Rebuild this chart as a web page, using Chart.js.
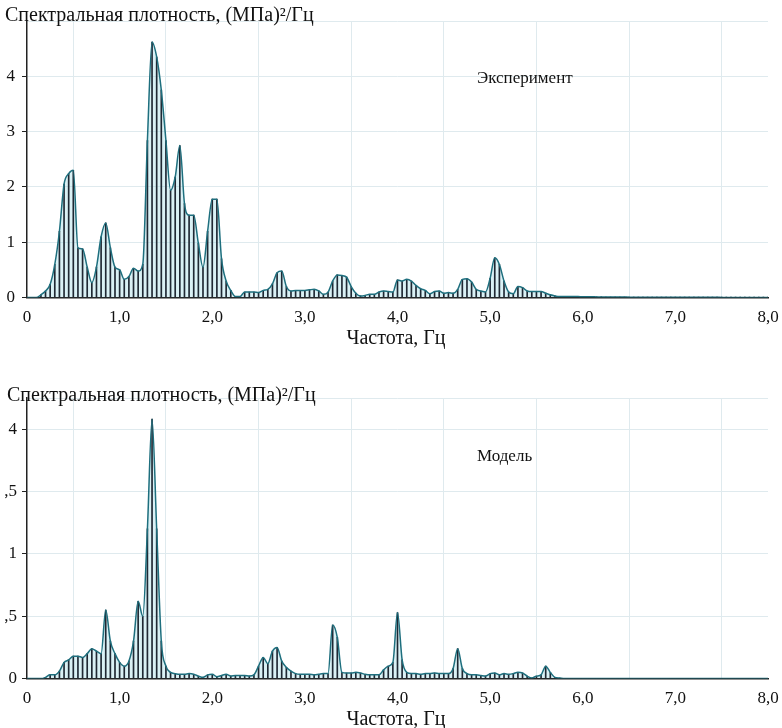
<!DOCTYPE html>
<html>
<head>
<meta charset="utf-8">
<script src="https://cdn.jsdelivr.net/npm/chart.js@4/dist/chart.umd.min.js"></script>
<style>
  html, body { margin: 0; padding: 0; background: #fff; }
  body { width: 782px; height: 728px; position: relative; overflow: hidden; font-family: "Liberation Serif", serif; color: #111; }
  .panel { position: absolute; left: 0; width: 782px; }
  .label { position: absolute; font-size: 20px; white-space: nowrap; line-height: 1; }
  .axis { position: absolute; left: 296px; width: 200px; text-align: center; font-size: 20px; line-height: 1; }
  .note { position: absolute; font-size: 17px; white-space: nowrap; line-height: 1; }
</style>
</head>
<body>
<div class="panel" style="top:0;height:338px"><canvas id="expChart" width="782" height="338"></canvas></div>
<div class="panel" style="top:370px;height:349px"><canvas id="modelChart" width="782" height="349"></canvas></div>

<div class="label" style="left:5px;top:4px">Спектральная плотность, (МПа)²/Гц</div>
<div class="note" style="left:477px;top:69px">Эксперимент</div>
<div class="axis" style="top:327px">Частота, Гц</div>

<div class="label" style="left:7px;top:384px">Спектральная плотность, (МПа)²/Гц</div>
<div class="note" style="left:477px;top:447px">Модель</div>
<div class="axis" style="top:708px">Частота, Гц</div>

<script>
// Frequency grid of the spectra, Hz (sampling step of the plotted spectra)
const freqs = Array.from({ length: 161 }, (_, i) => +(i * 0.05).toFixed(2));

// Experimental spectral density, (MPa)^2/Hz, one row per 1 Hz
const expSpectrum = [
    0, 0, 0, 0.05, 0.12, 0.24, 0.6, 1.2, 2.05, 2.24, 2.3, 0.9, 0.88, 0.55, 0.27, 0.55, 1.1, 1.35, 0.9, 0.55,
    0.5, 0.33, 0.38, 0.53, 0.48, 0.6, 2.84, 4.62, 4.35, 3.75, 2.84, 1.94, 2.18, 2.75, 1.7, 1.49, 1.49, 0.98, 0.55, 1.2,
    1.78, 1.78, 0.7, 0.3, 0.13, 0.02, 0.02, 0.1, 0.1, 0.1, 0.09, 0.13, 0.15, 0.25, 0.45, 0.48, 0.2, 0.12, 0.13, 0.13,
    0.13, 0.14, 0.15, 0.12, 0.06, 0.1, 0.3, 0.41, 0.4, 0.37, 0.2, 0.08, 0.03, 0.04, 0.06, 0.06, 0.1, 0.12, 0.11, 0.1,
    0.32, 0.3, 0.33, 0.3, 0.22, 0.16, 0.13, 0.07, 0.11, 0.12, 0.08, 0.09, 0.08, 0.15, 0.33, 0.34, 0.28, 0.15, 0.12, 0.1,
    0.35, 0.72, 0.6, 0.3, 0.1, 0.07, 0.2, 0.18, 0.12, 0.11, 0.11, 0.11, 0.08, 0.05, 0.03, 0.02, 0.02, 0.02, 0.02, 0.02,
    0.015, 0.015, 0.015, 0.012, 0.012, 0.01, 0.01, 0.01, 0.01, 0.01, 0.008, 0.008, 0.008, 0.008, 0.008, 0.006, 0.006, 0.006, 0.006, 0.006,
    0.005, 0.005, 0.005, 0.005, 0.005, 0.005, 0.005, 0.005, 0.005, 0.005, 0.004, 0.004, 0.004, 0.004, 0.004, 0.004, 0.004, 0.004, 0.004, 0.004,
    0.004
];

// Model spectral density, in units of the lower plot's axis
const modelSpectrum = [
    0, 0, 0, 0, 0.01, 0.03, 0.03, 0.06, 0.13, 0.15, 0.18, 0.18, 0.17, 0.2, 0.24, 0.22, 0.2, 0.55, 0.3, 0.2,
    0.13, 0.1, 0.14, 0.3, 0.62, 0.5, 1.2, 2.08, 1.2, 0.3, 0.1, 0.05, 0.04, 0.035, 0.035, 0.04, 0.035, 0.02, 0.01, 0.03,
    0.035, 0.015, 0.025, 0.035, 0.02, 0.025, 0.025, 0.025, 0.02, 0.03, 0.1, 0.17, 0.12, 0.22, 0.25, 0.14, 0.09, 0.06, 0.04, 0.035,
    0.035, 0.035, 0.03, 0.035, 0.04, 0.04, 0.43, 0.33, 0.05, 0.045, 0.045, 0.05, 0.045, 0.035, 0.03, 0.03, 0.03, 0.07, 0.1, 0.13,
    0.53, 0.15, 0.05, 0.04, 0.04, 0.035, 0.04, 0.04, 0.045, 0.04, 0.04, 0.04, 0.08, 0.24, 0.08, 0.04, 0.03, 0.03, 0.025, 0.02,
    0.04, 0.045, 0.03, 0.04, 0.035, 0.04, 0.05, 0.045, 0.02, 0.005, 0.02, 0.03, 0.1, 0.05, 0.01, 0.005, 0, 0, 0, 0,
    0, 0, 0, 0, 0, 0, 0, 0, 0, 0, 0, 0, 0, 0, 0, 0, 0, 0, 0, 0,
    0, 0, 0, 0, 0, 0, 0, 0, 0, 0, 0, 0, 0, 0, 0, 0, 0, 0, 0, 0,
    0
];

// Axis ticks
const xTickValues = [0, 1, 2, 3, 4, 5, 6, 7, 8];
const xTickLabels = ['0', '1,0', '2,0', '3,0', '4,0', '5,0', '6,0', '7,0', '8,0'];
const expTickValues = [0, 1, 2, 3, 4, 5];
const expTickLabels = ['0', '1', '2', '3', '4', ''];
const modelTickValues = [0, 0.5, 1, 1.5, 2, 2.25];
const modelTickLabels = ['0', '0,5', '1', '1,5', '4', ''];

const SERIF = '"Liberation Serif", "Times New Roman", serif';
const GRID = '#dfeaee';

document.addEventListener('DOMContentLoaded', () => {
    drawSpectrum('expChart', expSpectrum, expTickValues, expTickLabels, 5, 21, 7);
    drawSpectrum('modelChart', modelSpectrum, modelTickValues, modelTickLabels, 2.25, 28, 5);
});

function drawSpectrum(id, values, tickValues, tickLabels, yMax, topPad, labelPad) {
    const points = freqs.map((f, i) => ({ x: f, y: values[i] }));
    const ctx = document.getElementById(id).getContext('2d');
    new Chart(ctx, {
        type: 'line',
        data: {
            datasets: [{
                type: 'line',
                data: points,
                borderColor: '#1e6f7e',
                borderWidth: 1.5,
                backgroundColor: 'rgba(150, 215, 225, 0.35)',
                fill: 'origin',
                pointRadius: 0,
                cubicInterpolationMode: 'monotone',
                order: 0
            }, {
                type: 'bar',
                data: points,
                backgroundColor: '#1f2833',
                barThickness: 1,
                borderWidth: 0,
                order: 1
            }]
        },
        options: {
            responsive: false,
            animation: false,
            devicePixelRatio: 1,
            layout: { padding: { left: 5, right: 14, top: topPad, bottom: 0 } },
            plugins: {
                legend: { display: false },
                tooltip: { enabled: false },
                filler: { drawTime: 'beforeDatasetsDraw' }
            },
            scales: {
                x: {
                    type: 'linear',
                    min: 0,
                    max: 8,
                    offset: false,
                    afterBuildTicks: (scale) => { scale.ticks = xTickValues.map(v => ({ value: v })); },
                    afterFit: (scale) => { scale.paddingRight = 0; scale.paddingLeft = 0; },
                    ticks: {
                        autoSkip: false,
                        maxRotation: 0,
                        padding: 10,
                        color: '#111',
                        font: { family: SERIF, size: 17 },
                        callback: (v) => xTickLabels[xTickValues.indexOf(v)]
                    },
                    grid: { color: GRID, drawTicks: false },
                    border: { color: '#222', width: 1.5 }
                },
                y: {
                    min: 0,
                    max: yMax,
                    afterBuildTicks: (scale) => { scale.ticks = tickValues.map(v => ({ value: v })); },
                    afterFit: (scale) => { scale.width = 22; },
                    ticks: {
                        autoSkip: false,
                        padding: labelPad,
                        color: '#111',
                        font: { family: SERIF, size: 17 },
                        callback: (v) => tickLabels[tickValues.indexOf(v)]
                    },
                    grid: {
                        color: GRID,
                        tickLength: 5,
                        tickColor: (c) => (c.tick && c.tick.value === yMax ? 'rgba(0,0,0,0)' : '#222')
                    },
                    border: { color: '#222', width: 1.5 }
                }
            }
        }
    });
}
</script>
</body>
</html>
